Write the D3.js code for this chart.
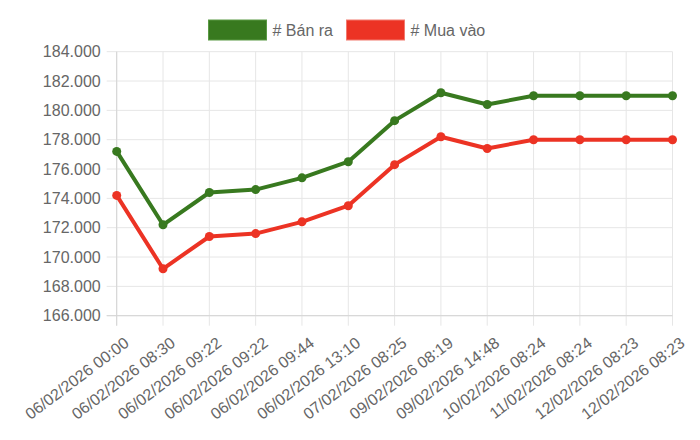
<!DOCTYPE html>
<html>
<head>
<meta charset="utf-8">
<script src="https://cdn.jsdelivr.net/npm/d3@7"></script>
<style>
  body { margin: 0; background: #fff; }
  svg { display: block; font-family: "Liberation Sans", Arial, Helvetica, sans-serif; }
</style>
</head>
<body>
<div id="chart"></div>
<script>
// Données
const labels = [
    "06/02/2026 00:00", "06/02/2026 08:30", "06/02/2026 09:22", "06/02/2026 09:22",
    "06/02/2026 09:44", "06/02/2026 13:10", "07/02/2026 08:25", "09/02/2026 08:19",
    "09/02/2026 14:48", "10/02/2026 08:24", "11/02/2026 08:24", "12/02/2026 08:23",
    "12/02/2026 08:23"
];
const banRa = [177200, 172200, 174400, 174600, 175400, 176500, 179300, 181200, 180400, 181000, 181000, 181000, 181000];
const muaVao = [174200, 169200, 171400, 171600, 172400, 173500, 176300, 178200, 177400, 178000, 178000, 178000, 178000];
const yTicks = [166000, 168000, 170000, 172000, 174000, 176000, 178000, 180000, 182000, 184000];

const series = [
    { name: "# Bán ra", values: banRa, color: "#38791f", border: "#5a9a44" },
    { name: "# Mua vào", values: muaVao, color: "#ec3324", border: "#f27a6f" }
];

const width = 700;
const height = 440;
const margin = { top: 51.7, right: 27.5, bottom: 124.3, left: 116.7 };

const svg = d3.select("#chart")
    .append("svg")
    .attr("width", width)
    .attr("height", height);

const x = d3.scalePoint()
    .domain(d3.range(labels.length))
    .range([margin.left, width - margin.right]);

const y = d3.scaleLinear()
    .domain([166000, 184000])
    .range([height - margin.bottom, margin.top]);

const gridColor = "#e6e6e6";

// grille horizontale + graduations Y
svg.append("g")
    .selectAll("line")
    .data(yTicks)
    .join("line")
    .attr("x1", margin.left - 10)
    .attr("x2", width - margin.right)
    .attr("y1", d => y(d))
    .attr("y2", d => y(d))
    .attr("stroke", gridColor)
    .attr("stroke-width", 1);

// grille verticale + graduations X
svg.append("g")
    .selectAll("line")
    .data(d3.range(labels.length))
    .join("line")
    .attr("x1", d => x(d))
    .attr("x2", d => x(d))
    .attr("y1", margin.top)
    .attr("y2", height - margin.bottom + 10)
    .attr("stroke", gridColor)
    .attr("stroke-width", 1);

// bordures des axes
svg.append("line")
    .attr("x1", margin.left).attr("x2", margin.left)
    .attr("y1", margin.top).attr("y2", height - margin.bottom + 10)
    .attr("stroke", "#d4d4d4");
svg.append("line")
    .attr("x1", margin.left - 10).attr("x2", width - margin.right)
    .attr("y1", y(166000)).attr("y2", y(166000))
    .attr("stroke", "#d4d4d4");

// étiquettes Y
svg.append("g")
    .selectAll("text")
    .data(yTicks)
    .join("text")
    .attr("x", margin.left - 16)
    .attr("y", d => y(d))
    .attr("dy", "0.35em")
    .attr("text-anchor", "end")
    .attr("fill", "#666")
    .style("font-size", "16px")
    .text(d => (d / 1000).toFixed(3));

// étiquettes X inclinées
svg.append("g")
    .selectAll("text")
    .data(labels)
    .join("text")
    .attr("transform", (d, i) => `translate(${x(i) + 10},${height - margin.bottom + 25}) rotate(-37)`)
    .attr("text-anchor", "end")
    .attr("dy", "0.35em")
    .attr("fill", "#666")
    .style("font-size", "16px")
    .text(d => d);

// lignes
const line = d3.line()
    .x((d, i) => x(i))
    .y(d => y(d));

series.forEach(s => {
    svg.append("path")
        .datum(s.values)
        .attr("fill", "none")
        .attr("stroke", s.color)
        .attr("stroke-width", 4)
        .attr("stroke-linejoin", "round")
        .attr("d", line);

    svg.append("g")
        .selectAll("circle")
        .data(s.values)
        .join("circle")
        .attr("cx", (d, i) => x(i))
        .attr("cy", d => y(d))
        .attr("r", 4.5)
        .attr("fill", s.color);
});

// légende
const legendX = [208.5, 346.5];
const legend = svg.append("g")
    .selectAll("g")
    .data(series)
    .join("g")
    .attr("transform", (d, i) => `translate(${legendX[i]},20)`);

legend.append("rect")
    .attr("width", 58)
    .attr("height", 20)
    .attr("fill", d => d.color)
    .attr("stroke", d => d.border)
    .attr("stroke-width", 1);

legend.append("text")
    .attr("x", 64)
    .attr("y", 10)
    .attr("dy", "0.35em")
    .attr("fill", "#666")
    .style("font-size", "16px")
    .text(d => d.name);
</script>
</body>
</html>
